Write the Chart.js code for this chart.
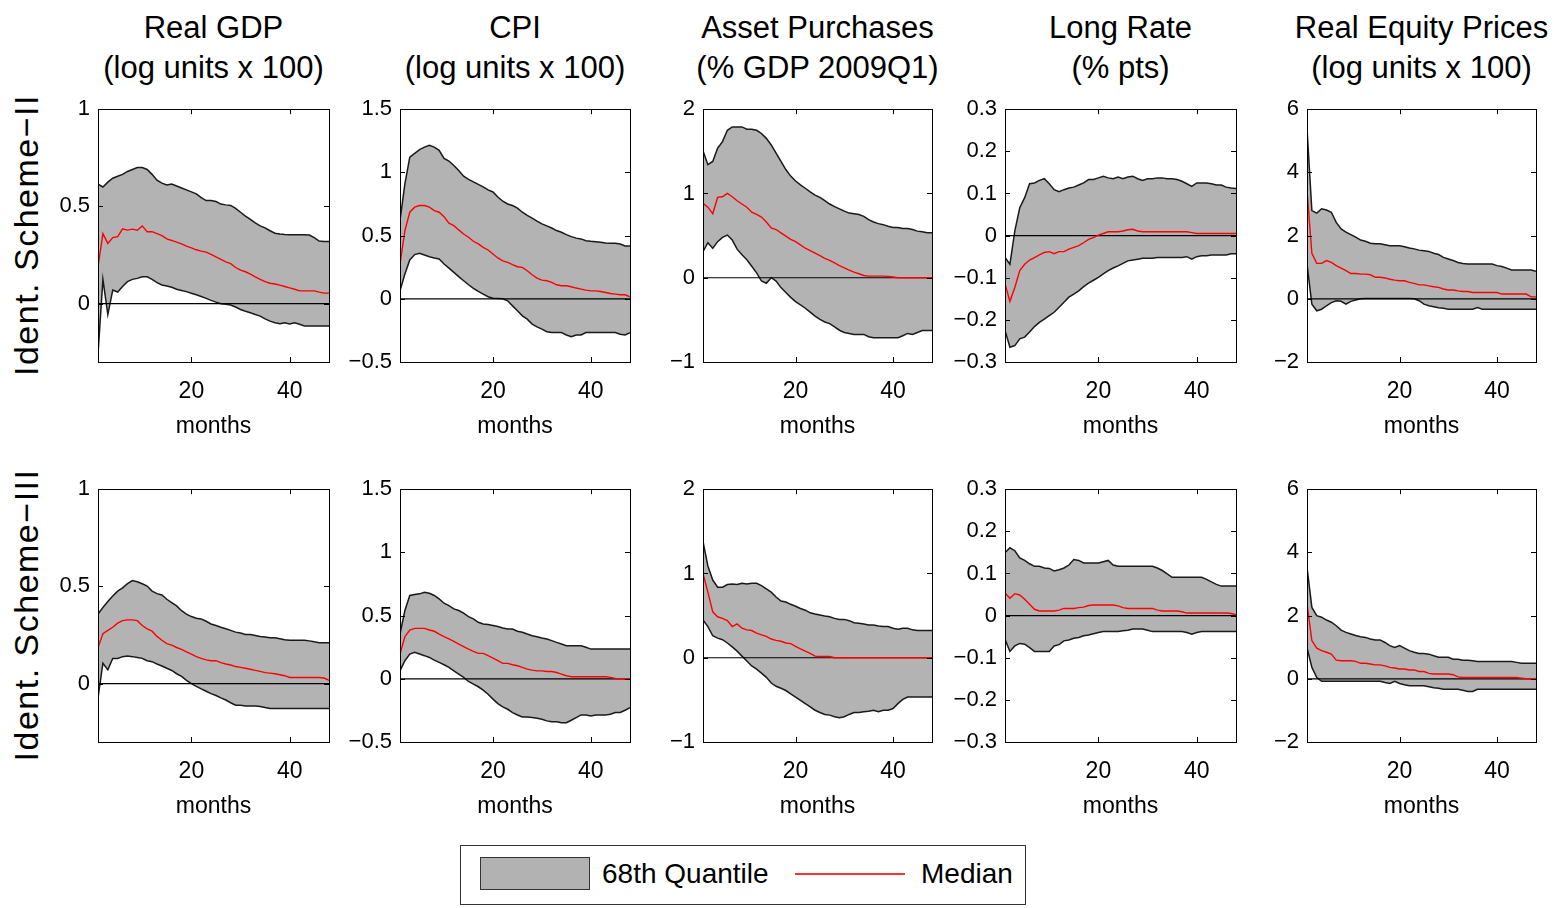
<!DOCTYPE html>
<html><head><meta charset="utf-8">
<script src="https://cdn.jsdelivr.net/npm/chart.js@4.4.1/dist/chart.umd.min.js"></script>
<style>
body{margin:0;background:#fff;width:1557px;height:908px;position:relative;overflow:hidden;font-family:"Liberation Sans",Arial,sans-serif;color:#000}
.title{position:absolute;top:8px;width:320px;text-align:center;font-size:31px;line-height:40px;white-space:nowrap}
.rowlab{position:absolute;font-size:34px;letter-spacing:1.5px;white-space:nowrap;transform:translate(-50%,-50%) rotate(-90deg)}
canvas{position:absolute}
#legend{position:absolute;left:460px;top:845px;width:564px;height:58px;border:1.5px solid #333;}
#patch{position:absolute;left:19px;top:11px;width:108px;height:31px;background:#b2b2b2;border:1.5px solid #333}
.ltxt{position:absolute;top:13px;font-size:28px;line-height:30px;white-space:nowrap}
#lline{position:absolute;left:334px;top:27px;width:110px;height:0;border-top:2px solid #ff3030}
</style>
</head><body>
<script>
// ---------- data ----------
const months = [1,2,3,4,5,6,7,8,9,10,11,12,13,14,15,16,17,18,19,20,21,22,23,24,25,26,27,28,29,30,31,32,33,34,35,36,37,38,39,40,41,42,43,44,45,46,47,48];
const xTicks = [20,40];
const yTicksGDP = [0,0.5,1];
const yTicksCPI = [-0.5,0,0.5,1,1.5];
const yTicksAP  = [-1,0,1,2];
const yTicksLR  = [-0.3,-0.2,-0.1,0,0.1,0.2,0.3];
const yTicksEQ  = [-2,0,2,4,6];
const titles1 = ['Real GDP','CPI','Asset Purchases','Long Rate','Real Equity Prices'];
const titles2 = ['(log units x 100)','(log units x 100)','(% GDP 2009Q1)','(% pts)','(log units x 100)'];
const rowLabels = ['Ident. Scheme\u2212II','Ident. Scheme\u2212III'];
const legendLabels = ['68th Quantile','Median'];

// Ident. Scheme-II
const gdpII_up = [0.615,0.60,0.625,0.645,0.655,0.665,0.68,0.69,0.70,0.70,0.69,0.665,0.635,0.62,0.61,0.615,0.605,0.595,0.585,0.575,0.565,0.545,0.53,0.53,0.525,0.512,0.508,0.505,0.49,0.47,0.45,0.433,0.415,0.40,0.39,0.375,0.362,0.358,0.356,0.355,0.355,0.355,0.354,0.353,0.34,0.322,0.32,0.32];
const gdpII_lo = [-0.26,0.125,-0.056,0.07,0.06,0.088,0.113,0.125,0.13,0.138,0.138,0.125,0.108,0.096,0.091,0.084,0.074,0.068,0.062,0.054,0.046,0.037,0.027,0.017,0.008,0,-0.003,-0.007,-0.017,-0.03,-0.039,-0.047,-0.056,-0.064,-0.078,-0.09,-0.098,-0.103,-0.098,-0.105,-0.098,-0.106,-0.115,-0.115,-0.115,-0.115,-0.115,-0.115];
const gdpII_md = [0.19,0.36,0.31,0.34,0.345,0.385,0.378,0.383,0.378,0.40,0.37,0.37,0.36,0.35,0.333,0.325,0.316,0.307,0.296,0.287,0.277,0.27,0.265,0.253,0.24,0.228,0.215,0.206,0.186,0.172,0.164,0.152,0.138,0.125,0.113,0.105,0.101,0.095,0.088,0.081,0.074,0.066,0.066,0.066,0.066,0.059,0.054,0.054];
const cpiII_up = [0.62,0.91,1.12,1.15,1.18,1.20,1.215,1.20,1.175,1.11,1.09,1.055,1.015,0.97,0.945,0.925,0.905,0.885,0.862,0.845,0.805,0.772,0.75,0.738,0.717,0.685,0.66,0.638,0.614,0.593,0.577,0.56,0.54,0.526,0.508,0.492,0.48,0.474,0.46,0.455,0.452,0.447,0.442,0.44,0.44,0.434,0.418,0.418];
const cpiII_lo = [0.063,0.196,0.307,0.35,0.36,0.347,0.333,0.323,0.315,0.275,0.243,0.209,0.175,0.143,0.111,0.082,0.058,0.037,0.016,0.005,0.003,0,-0.016,-0.056,-0.095,-0.135,-0.161,-0.2,-0.222,-0.24,-0.26,-0.267,-0.267,-0.267,-0.286,-0.30,-0.286,-0.286,-0.267,-0.267,-0.267,-0.267,-0.267,-0.267,-0.267,-0.28,-0.286,-0.267];
const cpiII_md = [0.275,0.54,0.685,0.725,0.738,0.738,0.725,0.698,0.685,0.65,0.598,0.579,0.545,0.513,0.487,0.455,0.434,0.407,0.386,0.354,0.323,0.30,0.288,0.27,0.254,0.249,0.222,0.19,0.164,0.148,0.143,0.13,0.111,0.103,0.103,0.095,0.085,0.077,0.069,0.063,0.063,0.058,0.05,0.042,0.037,0.032,0.032,0.016];
const apII_up = [1.506,1.342,1.38,1.537,1.615,1.75,1.79,1.79,1.79,1.763,1.763,1.75,1.712,1.654,1.576,1.479,1.381,1.284,1.206,1.148,1.101,1.062,1.019,0.98,0.953,0.914,0.875,0.844,0.817,0.79,0.767,0.759,0.751,0.728,0.689,0.661,0.642,0.63,0.611,0.595,0.595,0.584,0.584,0.572,0.553,0.545,0.533,0.533];
const apII_lo = [0.311,0.416,0.35,0.428,0.479,0.506,0.447,0.339,0.272,0.214,0.136,0.058,-0.039,-0.066,0,-0.039,-0.117,-0.175,-0.233,-0.284,-0.323,-0.362,-0.409,-0.455,-0.494,-0.525,-0.545,-0.584,-0.623,-0.65,-0.661,-0.673,-0.673,-0.673,-0.70,-0.712,-0.712,-0.712,-0.712,-0.712,-0.712,-0.689,-0.661,-0.673,-0.65,-0.626,-0.626,-0.626];
const apII_md = [0.883,0.837,0.759,0.953,0.961,1.0,0.961,0.914,0.875,0.837,0.778,0.751,0.72,0.661,0.591,0.572,0.533,0.494,0.455,0.428,0.389,0.35,0.323,0.292,0.261,0.23,0.206,0.175,0.144,0.117,0.089,0.066,0.047,0.027,0.019,0.019,0.019,0.019,0.016,0.008,0,0,0,0,0,0,0,0];
const lrII_up = [-0.052,-0.068,0.011,0.066,0.09,0.123,0.125,0.131,0.135,0.123,0.109,0.104,0.109,0.113,0.115,0.12,0.125,0.133,0.133,0.137,0.141,0.137,0.135,0.139,0.135,0.139,0.141,0.135,0.131,0.135,0.135,0.137,0.137,0.135,0.135,0.133,0.129,0.123,0.117,0.125,0.125,0.125,0.123,0.12,0.12,0.115,0.113,0.112];
const lrII_lo = [-0.225,-0.265,-0.261,-0.245,-0.241,-0.229,-0.216,-0.206,-0.198,-0.19,-0.182,-0.17,-0.158,-0.146,-0.139,-0.131,-0.121,-0.113,-0.106,-0.099,-0.091,-0.083,-0.077,-0.072,-0.066,-0.06,-0.058,-0.056,-0.054,-0.054,-0.054,-0.052,-0.052,-0.052,-0.052,-0.052,-0.052,-0.05,-0.056,-0.05,-0.048,-0.048,-0.046,-0.046,-0.046,-0.046,-0.043,-0.043];
const lrII_md = [-0.115,-0.156,-0.123,-0.083,-0.068,-0.058,-0.052,-0.046,-0.04,-0.038,-0.043,-0.038,-0.038,-0.032,-0.028,-0.024,-0.017,-0.009,-0.005,0.001,0.005,0.009,0.009,0.009,0.011,0.014,0.015,0.011,0.009,0.009,0.009,0.009,0.009,0.009,0.009,0.009,0.009,0.009,0.007,0.005,0.005,0.005,0.005,0.005,0.005,0.005,0.005,0.005];
const eqII_up = [5.39,2.79,2.71,2.85,2.81,2.74,2.42,2.21,2.11,2.03,1.95,1.86,1.82,1.76,1.74,1.74,1.71,1.68,1.68,1.68,1.65,1.61,1.58,1.54,1.52,1.5,1.44,1.40,1.31,1.26,1.21,1.15,1.12,1.10,1.10,1.10,1.10,1.10,1.10,1.05,1.02,0.97,0.91,0.91,0.91,0.91,0.91,0.87];
const eqII_lo = [1.10,-0.17,-0.38,-0.33,-0.22,-0.12,-0.06,-0.08,-0.17,-0.08,-0.04,0,0.01,0.01,0.01,0.01,0.01,0.01,0.01,0.01,0.01,0.01,0,-0.06,-0.17,-0.22,-0.25,-0.28,-0.30,-0.33,-0.33,-0.33,-0.33,-0.33,-0.33,-0.28,-0.33,-0.33,-0.33,-0.33,-0.33,-0.33,-0.33,-0.33,-0.33,-0.33,-0.33,-0.33];
const eqII_md = [3.43,1.44,1.12,1.12,1.21,1.15,1.05,0.97,0.89,0.80,0.80,0.78,0.78,0.76,0.68,0.68,0.66,0.62,0.59,0.57,0.57,0.52,0.49,0.44,0.44,0.41,0.38,0.36,0.31,0.28,0.28,0.25,0.23,0.23,0.20,0.20,0.20,0.20,0.20,0.20,0.15,0.15,0.15,0.15,0.15,0.15,0.06,0.06];

// Ident. Scheme-III
const gdpIII_up = [0.358,0.392,0.422,0.451,0.476,0.493,0.514,0.53,0.524,0.514,0.502,0.476,0.463,0.456,0.434,0.417,0.40,0.375,0.358,0.345,0.336,0.333,0.321,0.307,0.299,0.29,0.282,0.274,0.265,0.26,0.253,0.253,0.248,0.243,0.24,0.236,0.236,0.231,0.226,0.223,0.223,0.223,0.223,0.22,0.215,0.211,0.211,0.211];
const gdpIII_lo = [-0.073,0.105,0.071,0.13,0.13,0.139,0.142,0.139,0.135,0.13,0.118,0.113,0.101,0.091,0.079,0.068,0.051,0.037,0.017,0,-0.014,-0.027,-0.039,-0.051,-0.061,-0.073,-0.084,-0.098,-0.111,-0.111,-0.115,-0.115,-0.115,-0.118,-0.123,-0.128,-0.128,-0.128,-0.128,-0.128,-0.128,-0.128,-0.128,-0.128,-0.128,-0.128,-0.128,-0.128];
const gdpIII_md = [0.186,0.257,0.274,0.29,0.311,0.324,0.328,0.328,0.324,0.299,0.282,0.27,0.243,0.223,0.206,0.198,0.186,0.176,0.164,0.152,0.139,0.13,0.122,0.118,0.118,0.108,0.101,0.096,0.088,0.084,0.079,0.074,0.068,0.063,0.057,0.054,0.051,0.046,0.041,0.032,0.032,0.032,0.032,0.032,0.032,0.032,0.029,0.017];
const cpiIII_up = [0.354,0.54,0.659,0.667,0.672,0.685,0.677,0.659,0.632,0.598,0.579,0.553,0.54,0.519,0.492,0.474,0.447,0.434,0.429,0.421,0.413,0.402,0.394,0.394,0.376,0.368,0.354,0.341,0.333,0.323,0.315,0.302,0.288,0.275,0.262,0.262,0.262,0.262,0.249,0.235,0.235,0.235,0.235,0.235,0.235,0.235,0.235,0.235];
const cpiIII_lo = [0.063,0.143,0.196,0.209,0.196,0.183,0.169,0.148,0.13,0.111,0.09,0.063,0.037,0.011,-0.021,-0.042,-0.063,-0.09,-0.122,-0.161,-0.196,-0.222,-0.241,-0.267,-0.286,-0.302,-0.302,-0.307,-0.312,-0.32,-0.333,-0.339,-0.339,-0.347,-0.347,-0.328,-0.307,-0.286,-0.286,-0.294,-0.286,-0.286,-0.286,-0.28,-0.267,-0.267,-0.249,-0.228];
const cpiIII_md = [0.196,0.333,0.386,0.399,0.399,0.399,0.386,0.376,0.354,0.333,0.315,0.296,0.275,0.254,0.235,0.217,0.201,0.201,0.183,0.164,0.143,0.122,0.122,0.111,0.103,0.09,0.077,0.069,0.063,0.063,0.058,0.058,0.05,0.037,0.024,0.016,0.016,0.016,0.016,0.016,0.016,0.016,0.016,0.011,0.003,0,0,0];
const apIII_up = [1.381,1.089,0.922,0.837,0.837,0.868,0.875,0.868,0.883,0.875,0.883,0.883,0.856,0.817,0.778,0.72,0.673,0.661,0.634,0.611,0.584,0.564,0.533,0.518,0.506,0.494,0.486,0.467,0.455,0.455,0.44,0.416,0.409,0.401,0.389,0.389,0.377,0.37,0.37,0.35,0.339,0.35,0.35,0.331,0.323,0.323,0.323,0.323];
const apIII_lo = [0.447,0.37,0.261,0.233,0.214,0.175,0.128,0.078,0.019,-0.039,-0.097,-0.136,-0.183,-0.233,-0.30,-0.339,-0.362,-0.389,-0.428,-0.467,-0.506,-0.545,-0.584,-0.623,-0.65,-0.673,-0.681,-0.70,-0.712,-0.70,-0.673,-0.65,-0.65,-0.642,-0.634,-0.623,-0.642,-0.623,-0.623,-0.603,-0.545,-0.494,-0.467,-0.467,-0.467,-0.467,-0.467,-0.467];
const apIII_md = [1.0,0.778,0.545,0.486,0.467,0.44,0.37,0.401,0.35,0.331,0.323,0.292,0.272,0.253,0.222,0.206,0.195,0.175,0.167,0.136,0.105,0.078,0.051,0.019,0.015,0.015,0.015,0,0,0,0,0,0,0,0,0,0,0,0,0,0,0,0,0,0,0,0,0];
const lrIII_up = [0.149,0.161,0.154,0.137,0.131,0.123,0.117,0.117,0.113,0.112,0.106,0.109,0.113,0.12,0.133,0.131,0.125,0.125,0.125,0.125,0.128,0.131,0.12,0.117,0.117,0.117,0.117,0.117,0.117,0.117,0.117,0.113,0.107,0.099,0.091,0.091,0.091,0.091,0.091,0.091,0.091,0.086,0.08,0.074,0.07,0.07,0.07,0.07];
const lrIII_lo = [-0.056,-0.085,-0.072,-0.066,-0.068,-0.076,-0.085,-0.085,-0.085,-0.085,-0.072,-0.069,-0.06,-0.058,-0.054,-0.052,-0.048,-0.046,-0.043,-0.04,-0.038,-0.038,-0.038,-0.038,-0.036,-0.035,-0.032,-0.032,-0.032,-0.035,-0.038,-0.038,-0.038,-0.038,-0.038,-0.038,-0.038,-0.04,-0.044,-0.04,-0.038,-0.038,-0.038,-0.038,-0.038,-0.038,-0.038,-0.038];
const lrIII_md = [0.054,0.041,0.052,0.049,0.039,0.027,0.015,0.011,0.011,0.011,0.011,0.013,0.017,0.017,0.017,0.019,0.02,0.024,0.025,0.025,0.025,0.025,0.025,0.023,0.019,0.017,0.017,0.017,0.017,0.017,0.017,0.013,0.011,0.011,0.011,0.011,0.009,0.006,0.006,0.006,0.006,0.006,0.006,0.006,0.006,0.006,0.005,0.002];
const eqIII_up = [3.53,2.26,2.0,1.95,1.86,1.79,1.68,1.54,1.47,1.42,1.37,1.33,1.31,1.26,1.23,1.23,1.15,1.05,0.99,1.05,0.97,0.89,0.84,0.80,0.80,0.78,0.73,0.68,0.68,0.68,0.62,0.62,0.59,0.59,0.57,0.55,0.55,0.55,0.55,0.55,0.55,0.55,0.55,0.52,0.49,0.49,0.49,0.49];
const eqIII_lo = [0.99,0.36,0.04,-0.08,-0.08,-0.08,-0.08,-0.08,-0.08,-0.08,-0.08,-0.08,-0.08,-0.08,-0.08,-0.08,-0.12,-0.15,-0.08,-0.15,-0.19,-0.22,-0.22,-0.22,-0.22,-0.25,-0.28,-0.30,-0.33,-0.33,-0.33,-0.33,-0.36,-0.40,-0.40,-0.33,-0.33,-0.33,-0.33,-0.33,-0.33,-0.33,-0.33,-0.33,-0.33,-0.33,-0.33,-0.33];
const eqIII_md = [2.37,1.21,0.97,0.89,0.84,0.78,0.59,0.57,0.57,0.57,0.55,0.49,0.49,0.47,0.44,0.44,0.41,0.36,0.34,0.31,0.31,0.28,0.28,0.23,0.23,0.17,0.15,0.15,0.15,0.15,0.13,0.06,0.04,0.04,0.04,0.04,0.04,0.04,0.04,0.04,0.04,0.04,0.04,0.04,0.02,0,0,0];

// ---------- layout ----------
const FONT = '"Liberation Sans", Arial, sans-serif';
const plotL = [98,400,703,1005,1307];
const plotR = [329,630,932,1236,1536];
const plotT = [108,488];
const plotB = [362,742];
const YW = 70, PT = 20, PR = 8, XH = 80;

const colCfg = [
  {min:-0.3, max:1,   ticks:yTicksGDP},
  {min:-0.5, max:1.5, ticks:yTicksCPI},
  {min:-1,   max:2,   ticks:yTicksAP},
  {min:-0.3, max:0.3, ticks:yTicksLR},
  {min:-2,   max:6,   ticks:yTicksEQ}
];
const series = [
  [[gdpII_up,gdpII_lo,gdpII_md],[cpiII_up,cpiII_lo,cpiII_md],[apII_up,apII_lo,apII_md],[lrII_up,lrII_lo,lrII_md],[eqII_up,eqII_lo,eqII_md]],
  [[gdpIII_up,gdpIII_lo,gdpIII_md],[cpiIII_up,cpiIII_lo,cpiIII_md],[apIII_up,apIII_lo,apIII_md],[lrIII_up,lrIII_lo,lrIII_md],[eqIII_up,eqIII_lo,eqIII_md]]
];

// titles
for (let c=0;c<5;c++){
  const d=document.createElement('div'); d.className='title';
  d.style.left=((plotL[c]+plotR[c])/2-160)+'px';
  d.innerHTML=titles1[c]+'<br>'+titles2[c];
  document.body.appendChild(d);
}
// row labels
for (let r=0;r<2;r++){
  const d=document.createElement('div'); d.className='rowlab';
  d.style.left='26px'; d.style.top=((plotT[r]+plotB[r])/2)+'px';
  d.textContent=rowLabels[r];
  document.body.appendChild(d);
}
// legend
const lg=document.createElement('div'); lg.id='legend';
lg.innerHTML='<div id="patch"></div><div class="ltxt" style="left:141px">'+legendLabels[0]+'</div><div id="lline"></div><div class="ltxt" style="left:460px">'+legendLabels[1]+'</div>';
document.body.appendChild(lg);

const frame = {
  id:'frame',
  afterDraw(chart){
    const {ctx, chartArea:a, scales:{x,y}} = chart;
    ctx.save();
    ctx.strokeStyle='#000'; ctx.lineWidth=1;
    const L=5;
    ctx.beginPath();
    y.ticks.forEach(t=>{const py=Math.round(y.getPixelForValue(t.value))+0.5;
      ctx.moveTo(a.left,py);ctx.lineTo(a.left+L,py);ctx.moveTo(a.right,py);ctx.lineTo(a.right-L,py);});
    x.ticks.forEach(t=>{const px=Math.round(x.getPixelForValue(t.value))+0.5;
      ctx.moveTo(px,a.bottom);ctx.lineTo(px,a.bottom-L);ctx.moveTo(px,a.top);ctx.lineTo(px,a.top+L);});
    ctx.stroke();
    ctx.strokeRect(Math.round(a.left)+0.5,Math.round(a.top)+0.5,Math.round(a.right-a.left),Math.round(a.bottom-a.top));
    ctx.restore();
  }
};

const fmt = v => String(Math.round(v*1000)/1000).replace('-','\u2212');
const pts = arr => months.map((m,i)=>({x:m,y:arr[i]}));

for (let r=0;r<2;r++) for (let c=0;c<5;c++){
  const cv=document.createElement('canvas');
  const w=YW+(plotR[c]-plotL[c])+PR, h=PT+(plotB[r]-plotT[r])+XH;
  cv.width=w; cv.height=h;
  cv.style.left=(plotL[c]-YW)+'px'; cv.style.top=(plotT[r]-PT)+'px';
  cv.style.width=w+'px'; cv.style.height=h+'px';
  document.body.appendChild(cv);
  const [up,lo,md]=series[r][c];
  const cfg=colCfg[c];
  new Chart(cv,{
    type:'line',
    data:{datasets:[
      {label:'Median',data:pts(md),borderColor:'#ff0000',borderWidth:1.4,pointRadius:0,fill:false,tension:0},
      {label:'zero',data:[{x:months[0],y:0},{x:months[months.length-1],y:0}],borderColor:'#000',borderWidth:1.2,pointRadius:0,fill:false},
      {label:'upper',data:pts(up),borderColor:'#1a1a1a',borderWidth:1.5,pointRadius:0,fill:3,backgroundColor:'#b3b3b3',tension:0},
      {label:'lower',data:pts(lo),borderColor:'#1a1a1a',borderWidth:1.5,pointRadius:0,fill:false,tension:0}
    ]},
    options:{
      responsive:false, animation:false, devicePixelRatio:1,
      layout:{padding:{top:PT,right:PR,left:0,bottom:0}},
      plugins:{legend:{display:false},tooltip:{enabled:false},filler:{drawTime:'beforeDatasetsDraw'}},
      scales:{
        x:{type:'linear',min:1,max:48,
          grid:{display:false,drawTicks:false},border:{display:false},
          ticks:{font:{family:FONT,size:23},color:'#000',padding:16,maxRotation:0,autoSkip:false},
          title:{display:true,text:'months',font:{family:FONT,size:23},color:'#000',padding:{top:0,bottom:2}},
          afterBuildTicks:s=>{s.ticks=xTicks.map(v=>({value:v}));},
          afterFit:s=>{s.height=XH;}
        },
        y:{type:'linear',min:cfg.min,max:cfg.max,
          grid:{display:false,drawTicks:false},border:{display:false},
          ticks:{font:{family:FONT,size:22},color:'#000',padding:8,callback:v=>fmt(v)},
          afterBuildTicks:s=>{s.ticks=cfg.ticks.map(v=>({value:v}));},
          afterFit:s=>{s.width=YW;}
        }
      }
    },
    plugins:[frame]
  });
}
</script>
</body></html>
